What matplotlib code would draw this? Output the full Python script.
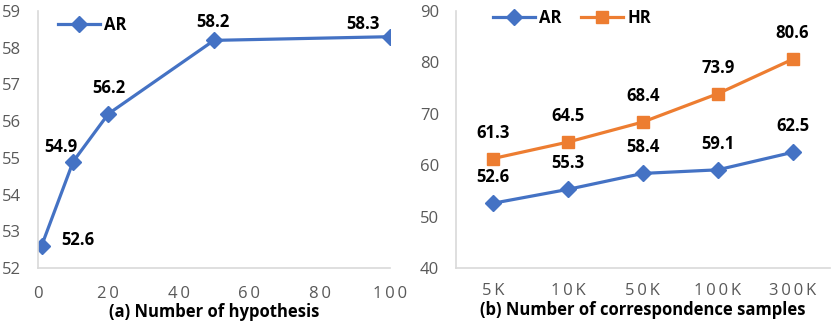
import matplotlib.pyplot as plt

# ---------------------------------------------------------------------------
# Data
# ---------------------------------------------------------------------------
hyp_x = [1, 10, 20, 50, 100]
hyp_ar = [52.6, 54.9, 56.2, 58.2, 58.3]

samples = ['5K', '10K', '50K', '100K', '300K']
samp_ar = [52.6, 55.3, 58.4, 59.1, 62.5]
samp_hr = [61.3, 64.5, 68.4, 73.9, 80.6]

BLUE = '#4472C4'
ORANGE = '#ED7D31'
GRID = '#D9D9D9'
TICK = '#595959'

plt.rcParams['font.family'] = ['Open Sans', 'DejaVu Sans']

fig = plt.figure(figsize=(8.31, 3.33), dpi=100)
ax_a = fig.add_axes([38 / 831, 1 - 268 / 333, (390 - 38) / 831, (268 - 11) / 333])
ax_b = fig.add_axes([455.7 / 831, 1 - 268 / 333, (830 - 455.7) / 831, (268 - 11) / 333])


def style(ax):
    for s in ('top', 'right'):
        ax.spines[s].set_visible(False)
    for s in ('left', 'bottom'):
        ax.spines[s].set_color(GRID)
        ax.spines[s].set_linewidth(1.2)
    ax.tick_params(length=0, labelsize=12, colors=TICK)
    ax.tick_params(axis='y', pad=12)
    ax.tick_params(axis='x', pad=13)


def spaced(s):
    # Excel-style letter spacing on the axis labels
    return '\u2009'.join(s)


# --- (a) number of hypothesis ---
ax_a.plot(hyp_x, hyp_ar, color=BLUE, lw=2.3, marker='D', ms=8, label='AR')
ax_a.set_xlim(0, 100)
ax_a.set_ylim(52, 59)
ax_a.set_xticks(range(0, 101, 20))
ax_a.set_xticklabels([spaced(str(v)) for v in range(0, 101, 20)])
ax_a.set_yticks(range(52, 60))
style(ax_a)
offs_a = [(36, 6), (-12, 15), (0, 26), (-1, 18), (-27, 13)]
for x, y, o in zip(hyp_x, hyp_ar, offs_a):
    ax_a.annotate(f'{y:.1f}', (x, y), xytext=o, textcoords='offset pixels',
                  ha='center', va='center', fontsize=12, fontweight='bold')
ax_a.set_xlabel('(a) Number of hypothesis', fontsize=12, fontweight='bold',
                labelpad=1)
ax_a.legend(loc='upper left', bbox_to_anchor=(0.015, 1.04), frameon=False,
            handlelength=2.5, handletextpad=0.25,
            prop={'weight': 'bold', 'size': 12})

# --- (b) number of correspondence samples ---
pos = list(range(len(samples)))
ax_b.plot(pos, samp_ar, color=BLUE, lw=2.3, marker='D', ms=8, label='AR')
ax_b.plot(pos, samp_hr, color=ORANGE, lw=2.3, marker='s', ms=9, label='HR')
ax_b.set_xlim(-0.5, len(samples) - 0.5)
ax_b.set_ylim(40, 90)
ax_b.set_xticks(pos)
ax_b.set_xticklabels([spaced(s) for s in samples])
ax_b.set_yticks(range(40, 91, 10))
style(ax_b)
ax_b.tick_params(axis='x', pad=11)
for x, y in zip(pos, samp_ar):
    ax_b.annotate(f'{y:.1f}', (x, y), xytext=(0, 26), textcoords='offset pixels',
                  ha='center', va='center', fontsize=12, fontweight='bold')
for x, y in zip(pos, samp_hr):
    ax_b.annotate(f'{y:.1f}', (x, y), xytext=(0, 26), textcoords='offset pixels',
                  ha='center', va='center', fontsize=12, fontweight='bold')
ax_b.set_xlabel('(b) Number of correspondence samples', fontsize=12,
                fontweight='bold', labelpad=1)
ax_b.legend(loc='upper left', bbox_to_anchor=(0.06, 1.065), frameon=False,
            ncol=2, handlelength=2.5, handletextpad=0.25, columnspacing=1.2,
            prop={'weight': 'bold', 'size': 12})

fig.savefig('out.png', dpi=100)
